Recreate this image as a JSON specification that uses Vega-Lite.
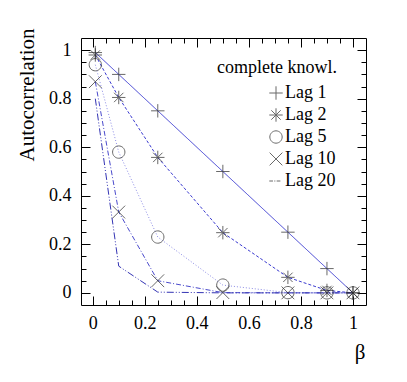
{
  "$schema": "https://vega.github.io/schema/vega-lite/v6.json",
  "width": 285,
  "height": 267,
  "autosize": {"type": "none"},
  "padding": {"left": 81, "top": 38, "right": 41, "bottom": 77},
  "background": "white",
  "config": {
    "view": {"stroke": null},
    "font": "Liberation Serif",
    "axis": {
      "domainColor": "black", "domainWidth": 1, "tickColor": "black", "tickWidth": 1,
      "labelColor": "black", "titleColor": "black",
      "labelFont": "Liberation Serif", "titleFont": "Liberation Serif",
      "labelFontSize": 18, "titleFontSize": 21, "titleFontWeight": "normal",
      "grid": false, "labelFlush": false, "labelOverlap": false, "labelBound": false
    },
    "legend": {
      "labelFont": "Liberation Serif", "titleFont": "Liberation Serif",
      "labelFontSize": 18, "titleFontSize": 18, "titleFontWeight": "normal",
      "labelColor": "black", "titleColor": "black"
    },
    "style": {
      "guide-label": {"font": "Liberation Serif"},
      "guide-title": {"font": "Liberation Serif"}
    }
  },
  "data": {
    "values": [
      {"lag": "Lag 1", "beta": 0.01, "value": 0.99},
      {"lag": "Lag 1", "beta": 0.1, "value": 0.9},
      {"lag": "Lag 1", "beta": 0.25, "value": 0.75},
      {"lag": "Lag 1", "beta": 0.5, "value": 0.5},
      {"lag": "Lag 1", "beta": 0.75, "value": 0.25},
      {"lag": "Lag 1", "beta": 0.9, "value": 0.1},
      {"lag": "Lag 1", "beta": 1.0, "value": 0.0},
      {"lag": "Lag 2", "beta": 0.01, "value": 0.98},
      {"lag": "Lag 2", "beta": 0.1, "value": 0.805},
      {"lag": "Lag 2", "beta": 0.25, "value": 0.558},
      {"lag": "Lag 2", "beta": 0.5, "value": 0.248},
      {"lag": "Lag 2", "beta": 0.75, "value": 0.064},
      {"lag": "Lag 2", "beta": 0.9, "value": 0.01},
      {"lag": "Lag 2", "beta": 1.0, "value": 0.0},
      {"lag": "Lag 5", "beta": 0.01, "value": 0.94},
      {"lag": "Lag 5", "beta": 0.1, "value": 0.58},
      {"lag": "Lag 5", "beta": 0.25, "value": 0.23},
      {"lag": "Lag 5", "beta": 0.5, "value": 0.032},
      {"lag": "Lag 5", "beta": 0.75, "value": 0.001},
      {"lag": "Lag 5", "beta": 0.9, "value": 0.0},
      {"lag": "Lag 5", "beta": 1.0, "value": 0.0},
      {"lag": "Lag 10", "beta": 0.01, "value": 0.87},
      {"lag": "Lag 10", "beta": 0.1, "value": 0.333},
      {"lag": "Lag 10", "beta": 0.25, "value": 0.05},
      {"lag": "Lag 10", "beta": 0.5, "value": 0.001},
      {"lag": "Lag 10", "beta": 0.75, "value": 0.0},
      {"lag": "Lag 10", "beta": 0.9, "value": 0.0},
      {"lag": "Lag 10", "beta": 1.0, "value": 0.0},
      {"lag": "Lag 20", "beta": 0.01, "value": 0.8},
      {"lag": "Lag 20", "beta": 0.1, "value": 0.11},
      {"lag": "Lag 20", "beta": 0.25, "value": 0.003},
      {"lag": "Lag 20", "beta": 0.5, "value": 0.0},
      {"lag": "Lag 20", "beta": 0.75, "value": 0.0},
      {"lag": "Lag 20", "beta": 0.9, "value": 0.0},
      {"lag": "Lag 20", "beta": 1.0, "value": 0.0}
    ]
  },
  "layer": [
    {
      "mark": {"type": "line", "strokeWidth": 1, "clip": true},
      "encoding": {
        "x": {
          "field": "beta", "type": "quantitative",
          "scale": {"domain": [-0.045, 1.05], "nice": false, "zero": false},
          "axis": {
            "orient": "bottom", "title": "β",
            "values": [0, 0.05, 0.1, 0.15, 0.2, 0.25, 0.3, 0.35, 0.4, 0.45, 0.5, 0.55, 0.6, 0.65, 0.7, 0.75, 0.8, 0.85, 0.9, 0.95, 1.0],
            "labelExpr": "round(datum.value*100) % 20 == 0 ? format(datum.value, '~g') : ''",
            "tickSize": {"condition": {"test": "round(datum.value*100) % 20 == 0", "value": -9}, "value": -5},
            "labelPadding": 18,
            "labelFont": "Liberation Serif", "labelFontSize": 18, "labelColor": "black",
            "titleFont": "Liberation Serif", "titleFontSize": 21, "titleFontWeight": "normal",
            "titleX": 284, "titleY": 53, "titleAlign": "right", "titleBaseline": "alphabetic",
            "encode": {"labels": {"update": {"font": {"value": "Liberation Serif"}, "fontSize": {"value": 18}}}}
          }
        },
        "y": {
          "field": "value", "type": "quantitative",
          "scale": {"domain": [-0.05, 1.05], "nice": false, "zero": false},
          "axis": {
            "orient": "left", "title": "Autocorrelation",
            "values": [0, 0.05, 0.1, 0.15, 0.2, 0.25, 0.3, 0.35, 0.4, 0.45, 0.5, 0.55, 0.6, 0.65, 0.7, 0.75, 0.8, 0.85, 0.9, 0.95, 1.0],
            "labelExpr": "round(datum.value*100) % 20 == 0 ? format(datum.value, '~g') : ''",
            "tickSize": {"condition": {"test": "round(datum.value*100) % 20 == 0", "value": -9}, "value": -5},
            "labelPadding": 19,
            "labelFont": "Liberation Serif", "labelFontSize": 18, "labelColor": "black",
            "titleFont": "Liberation Serif", "titleFontSize": 21, "titleFontWeight": "normal",
            "titleX": -48, "titleY": -10, "titleAngle": 270, "titleAlign": "right", "titleBaseline": "alphabetic",
            "encode": {"labels": {"update": {"font": {"value": "Liberation Serif"}, "fontSize": {"value": 18}}}}
          }
        },
        "color": {
          "field": "lag", "type": "nominal",
          "scale": {"domain": ["Lag 20", "Lag 10", "Lag 5", "Lag 2", "Lag 1"], "range": ["#3434b4", "#4a4acc", "#8c8ce6", "#3a3ad0", "#3c3cd2"]},
          "legend": null
        },
        "strokeDash": {
          "field": "lag", "type": "nominal",
          "scale": {"domain": ["Lag 20", "Lag 10", "Lag 5", "Lag 2", "Lag 1"], "range": [[7, 2, 1, 2, 1, 2], [5, 2, 1, 2], [1, 2], [3, 2], [1, 0]]},
          "legend": null
        }
      }
    },
    {
      "transform": [{"filter": "datum.lag != 'Lag 20'"}],
      "mark": {"type": "point", "filled": false, "stroke": "#2a2a2a", "strokeWidth": 1, "size": 180},
      "encoding": {
        "x": {
          "field": "beta", "type": "quantitative",
          "axis": {
            "orient": "top", "title": null, "labels": false,
            "values": [0, 0.05, 0.1, 0.15, 0.2, 0.25, 0.3, 0.35, 0.4, 0.45, 0.5, 0.55, 0.6, 0.65, 0.7, 0.75, 0.8, 0.85, 0.9, 0.95, 1.0],
            "tickSize": {"condition": {"test": "round(datum.value*100) % 20 == 0", "value": -9}, "value": -5}
          }
        },
        "y": {
          "field": "value", "type": "quantitative",
          "axis": {
            "orient": "right", "title": null, "labels": false,
            "values": [0, 0.05, 0.1, 0.15, 0.2, 0.25, 0.3, 0.35, 0.4, 0.45, 0.5, 0.55, 0.6, 0.65, 0.7, 0.75, 0.8, 0.85, 0.9, 0.95, 1.0],
            "tickSize": {"condition": {"test": "round(datum.value*100) % 20 == 0", "value": -9}, "value": -5}
          }
        },
        "shape": {
          "field": "lag", "type": "nominal", "title": "complete knowl.",
          "scale": {
            "domain": ["Lag 1", "Lag 2", "Lag 5", "Lag 10", "Lag 20"],
            "range": [
              "M-1,0L1,0M0,-1L0,1",
              "M-1,0L1,0M0,-1L0,1M-0.7,-0.7L0.7,0.7M-0.7,0.7L0.7,-0.7",
              "M0.92,0A0.92,0.92 0 1,1 -0.92,0A0.92,0.92 0 1,1 0.92,0Z",
              "M-0.95,-0.95L0.95,0.95M-0.95,0.95L0.95,-0.95",
              "M-1,0L-0.45,0M-0.25,0L-0.1,0M0.1,0L0.65,0"
            ]
          },
          "legend": {
            "orient": "none", "legendX": 136, "legendY": 21, "padding": 0,
            "titleFont": "Liberation Serif", "titleFontSize": 18, "titleFontWeight": "normal", "titleColor": "black", "titleBaseline": "top", "titlePadding": 7,
            "labelFont": "Liberation Serif", "labelFontSize": 18, "labelColor": "black", "labelOffset": 0,
            "symbolSize": 180, "symbolStrokeWidth": 1, "symbolOffset": 50, "rowPadding": 4, "symbolStrokeColor": "#2a2a2a",
            "encode": {
              "symbols": {"update": {"stroke": {"signal": "datum.value == 'Lag 20' ? '#3434b4' : '#2a2a2a'"}}},
              "labels": {"update": {"font": {"value": "Liberation Serif"}, "fontSize": {"value": 18}}},
              "title": {"update": {"font": {"value": "Liberation Serif"}, "fontSize": {"value": 18}}}
            }
          }
        }
      }
    }
  ],
  "resolve": {"axis": {"x": "independent", "y": "independent"}}
}
